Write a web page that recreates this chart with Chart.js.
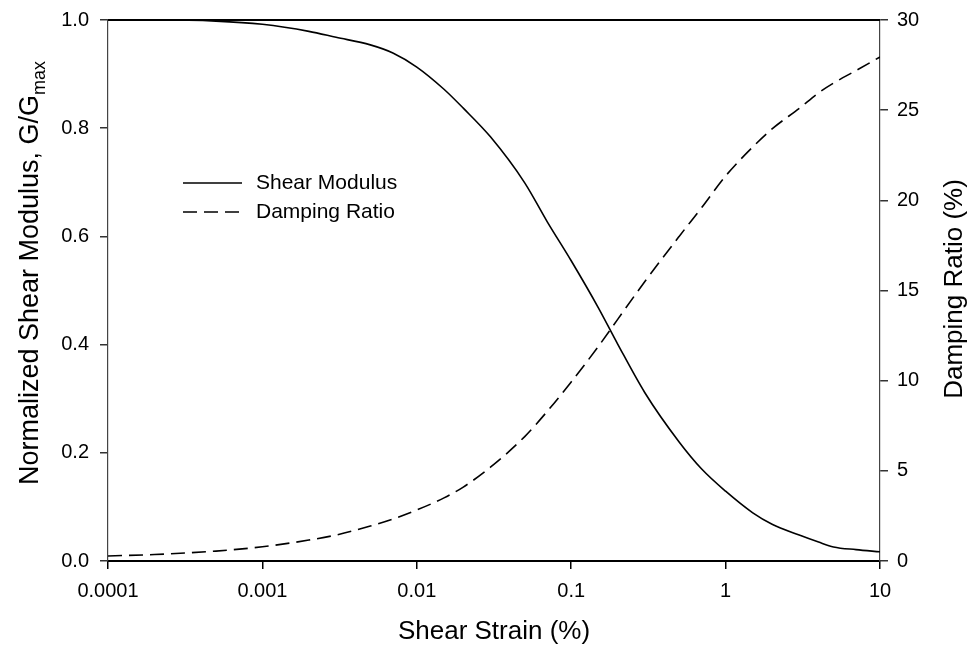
<!DOCTYPE html>
<html>
<head>
<meta charset="utf-8">
<script src="https://cdn.jsdelivr.net/npm/chart.js@4/dist/chart.umd.min.js"></script>
<style>
  html, body { margin: 0; padding: 0; background: #fff; }
  canvas { display: block; }
</style>
</head>
<body>
<canvas id="chart" width="971" height="649"></canvas>
<script>
// Shear strain (%)
const strain = [0.0001, 0.0002, 0.0005, 0.001, 0.002, 0.003, 0.005, 0.007, 0.01, 0.015, 0.02, 0.03, 0.05, 0.07,
  0.1, 0.15, 0.2, 0.3, 0.5, 0.7, 1, 1.5, 2, 3, 4, 5, 7, 10];
// G/Gmax (left axis)
const shearModulus = [1.0, 1.0, 0.998, 0.992, 0.979, 0.968, 0.954, 0.939, 0.913, 0.872, 0.837, 0.784, 0.699, 0.627,
  0.555, 0.468, 0.401, 0.311, 0.22, 0.17, 0.129, 0.089, 0.068, 0.048, 0.035, 0.026, 0.021, 0.017];
// Damping ratio % (right axis)
const dampingRatio = [0.28, 0.36, 0.55, 0.79, 1.16, 1.44, 1.94, 2.33, 2.83, 3.5, 4.1, 5.2, 6.9, 8.3,
  9.93, 11.9, 13.4, 15.5, 18.0, 19.6, 21.35, 22.96, 23.96, 25.1, 25.96, 26.5, 27.2, 27.95];

const strainTicks = [0.0001, 0.001, 0.01, 0.1, 1, 10];
const strainLabels = ["0.0001", "0.001", "0.01", "0.1", "1", "10"];
const modulusTicks = [0, 0.2, 0.4, 0.6, 0.8, 1.0];
const dampingTicks = [0, 5, 10, 15, 20, 25, 30];

const FONT = "'Liberation Sans', Arial, sans-serif";

function pairs(xs, ys) {
  return xs.map((x, i) => ({ x: x, y: ys[i] }));
}

// fixed axis box sizes, no extra label padding around the plot
function fitY(width) {
  return (s) => { s.width = width; s.paddingTop = 0; s.paddingBottom = 0; };
}

// titles, legend and top frame line
const extras = {
  id: "extras",
  afterDraw(chart) {
    const { ctx, chartArea: a } = chart;
    ctx.save();

    ctx.strokeStyle = "#000";
    ctx.lineWidth = 2;
    ctx.beginPath();
    ctx.moveTo(a.left, a.top);
    ctx.lineTo(a.right, a.top);
    ctx.stroke();

    ctx.fillStyle = "#000";
    ctx.textBaseline = "middle";

    // bottom title
    ctx.font = "26px " + FONT;
    ctx.textAlign = "center";
    ctx.fillText("Shear Strain (%)", (a.left + a.right) / 2, 632);

    // left title with subscript
    ctx.save();
    ctx.translate(31, 273);
    ctx.rotate(-Math.PI / 2);
    const main = "Normalized Shear Modulus, G/G";
    const sub = "max";
    ctx.font = "27px " + FONT;
    const wMain = ctx.measureText(main).width;
    ctx.font = "18px " + FONT;
    const wSub = ctx.measureText(sub).width;
    const x0 = -(wMain + wSub) / 2;
    ctx.textAlign = "left";
    ctx.font = "27px " + FONT;
    ctx.fillText(main, x0, 0);
    ctx.font = "18px " + FONT;
    ctx.fillText(sub, x0 + wMain, 9);
    ctx.restore();

    // right title
    ctx.save();
    ctx.translate(955, 289);
    ctx.rotate(-Math.PI / 2);
    ctx.font = "26px " + FONT;
    ctx.textAlign = "center";
    ctx.fillText("Damping Ratio (%)", 0, 0);
    ctx.restore();

    // legend
    ctx.font = "21px " + FONT;
    ctx.textAlign = "left";
    chart.data.datasets.forEach((ds, i) => {
      const y = 183 + i * 29;
      ctx.strokeStyle = ds.borderColor;
      ctx.lineWidth = ds.borderWidth;
      ctx.setLineDash(ds.borderDash || []);
      ctx.beginPath();
      ctx.moveTo(183, y);
      ctx.lineTo(242, y);
      ctx.stroke();
      ctx.setLineDash([]);
      ctx.fillText(ds.label, 256, y);
    });

    ctx.restore();
  }
};

new Chart(document.getElementById("chart"), {
  type: "line",
  data: {
    datasets: [
      {
        label: "Shear Modulus",
        data: pairs(strain, shearModulus),
        yAxisID: "y",
        borderColor: "#000",
        borderWidth: 1.6,
        pointRadius: 0,
        cubicInterpolationMode: "monotone",
        fill: false
      },
      {
        label: "Damping Ratio",
        data: pairs(strain, dampingRatio),
        yAxisID: "y2",
        borderColor: "#000",
        borderWidth: 1.6,
        borderDash: [14, 7],
        pointRadius: 0,
        cubicInterpolationMode: "monotone",
        fill: false
      }
    ]
  },
  options: {
    responsive: false,
    animation: false,
    layout: { padding: { top: 20, left: 0, right: 0, bottom: 0 } },
    plugins: { legend: { display: false }, tooltip: { enabled: false } },
    scales: {
      x: {
        type: "logarithmic",
        min: 0.0001,
        max: 10,
        afterBuildTicks: (s) => { s.ticks = strainTicks.map(v => ({ value: v })); },
        afterFit: (s) => { s.height = 88; s.paddingLeft = 0; s.paddingRight = 0; },
        ticks: {
          color: "#000",
          font: { family: FONT, size: 20 },
          padding: 10,
          maxRotation: 0,
          autoSkip: false,
          callback: (v) => strainLabels[strainTicks.indexOf(v)] ?? ""
        },
        grid: { drawOnChartArea: false, tickLength: 8, color: "#000", lineWidth: 1.5 },
        border: { color: "#000", width: 2 }
      },
      y: {
        position: "left",
        min: 0,
        max: 1,
        afterBuildTicks: (s) => { s.ticks = modulusTicks.map(v => ({ value: v })); },
        afterFit: fitY(108),
        ticks: {
          color: "#000",
          font: { family: FONT, size: 20 },
          padding: 11,
          callback: (v) => v.toFixed(1)
        },
        grid: { drawOnChartArea: false, tickLength: 8, color: "#333", lineWidth: 1.5 },
        border: { color: "#444", width: 1.2 }
      },
      y2: {
        position: "right",
        min: 0,
        max: 30,
        afterBuildTicks: (s) => { s.ticks = dampingTicks.map(v => ({ value: v })); },
        afterFit: fitY(91),
        ticks: {
          color: "#000",
          font: { family: FONT, size: 20 },
          padding: 9,
          callback: (v) => String(v)
        },
        grid: { drawOnChartArea: false, tickLength: 8, color: "#333", lineWidth: 1.5 },
        border: { color: "#444", width: 1.2 }
      }
    }
  },
  plugins: [extras]
});
</script>
</body>
</html>
